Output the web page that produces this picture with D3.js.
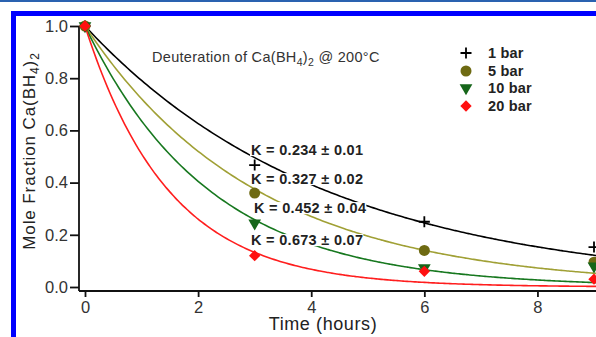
<!DOCTYPE html>
<html><head><meta charset="utf-8">
<script src="https://cdn.jsdelivr.net/npm/d3@7"></script>
<style>body{margin:0;background:#fff}svg{display:block}</style>
</head><body>
<script>
const times = [0, 3, 6, 9];
const series = ["1 bar", "5 bar", "10 bar", "20 bar"];
const vals1 = [1.0, 0.467, 0.25, 0.153];
const vals5 = [1.0, 0.36, 0.14, 0.095];
const vals10 = [1.0, 0.245, 0.073, 0.08];
const vals20 = [1.0, 0.12, 0.06, 0.03];
const kValues = [0.234, 0.327, 0.452, 0.673];
const kErrors = ["0.01", "0.02", "0.04", "0.07"];
const xTicks = [0, 2, 4, 6, 8];
const yTicks = [0.0, 0.2, 0.4, 0.6, 0.8, 1.0];

const W = 596, H = 337;
const FONT = "Liberation Sans, Arial, sans-serif";
const svg = d3.select("body").append("svg").attr("width", W).attr("height", H);
// page frame
svg.append("rect").attr("x",0).attr("y",0).attr("width",W).attr("height",2).attr("fill","#2a62b0");
svg.append("rect").attr("x",11).attr("y",11).attr("width",W-11).attr("height",5).attr("fill","#0000ff");
svg.append("rect").attr("x",11).attr("y",11).attr("width",5).attr("height",H-11).attr("fill","#0000ff");

const x = d3.scaleLinear().domain([0, 9]).range([85, 594]);
const y = d3.scaleLinear().domain([0, 1]).range([287, 26]);

const colors = ["#000000", "#a0a035", "#17781f", "#ff1e1e"];
const markerColors = ["#000000", "#6e6a12", "#16661a", "#ff1010"];
const allVals = [vals1, vals5, vals10, vals20];

const g = svg.append("g");
// fitted curves y = exp(-K t)
const line = d3.line().x(d => x(d[0])).y(d => y(d[1])).curve(d3.curveMonotoneX);
kValues.forEach((k, i) => {
  const pts = d3.range(0, 9.6, 0.05).map(t => [t, Math.exp(-k * t)]);
  g.append("path").attr("d", line(pts)).attr("fill","none")
   .attr("stroke", colors[i]).attr("stroke-width", 1.6);
});

// axes
const yAxis = d3.axisLeft(y).tickValues(yTicks).tickFormat(d3.format(".1f")).tickSize(9).tickPadding(2);
const ya = svg.append("g").attr("transform","translate(79,0)").call(yAxis);
ya.select(".domain").attr("d", `M0,${y(1)}V291`).attr("stroke","#111").attr("stroke-width",1.8);
const xAxis = d3.axisBottom(x).tickValues(xTicks).tickSize(6).tickPadding(4);
const xa = svg.append("g").attr("transform","translate(0,291)").call(xAxis);
xa.select(".domain").attr("d", `M79,0H${W}`).attr("stroke","#111").attr("stroke-width",1.8);
[ya, xa].forEach(a => {
  a.selectAll(".tick line").attr("stroke","#111").attr("stroke-width",1.8);
  a.selectAll(".tick text").attr("fill","#333").style("font-family",FONT).style("font-size","16.5px");
});

// K labels with white background
const labelPos = [[251,150],[251,179],[254,208],[251,240]];
kValues.forEach((k, i) => {
  const t = svg.append("text").attr("x", labelPos[i][0]).attr("y", labelPos[i][1])
    .attr("dy","0.35em").attr("font-family",FONT)
    .attr("font-weight","bold").attr("font-size","14.5px").attr("letter-spacing","0.3px").attr("fill","#222")
    .text(`K = ${k.toFixed(3)} ± ${kErrors[i]}`);
  const bb = t.node().getBBox();
  svg.insert("rect", function(){ return t.node(); })
    .attr("x", bb.x - 1).attr("y", bb.y + 2).attr("width", bb.width + 1).attr("height", bb.height - 4)
    .attr("fill","#fff");
});

// markers
function drawMarker(sel, i, cx, cy) {
  if (i === 0) {
    sel.append("path").attr("d", `M${cx-5.5},${cy}H${cx+5.5}M${cx},${cy-5.5}V${cy+5.5}`)
      .attr("stroke","#000").attr("stroke-width",1.8);
  } else if (i === 1) {
    sel.append("circle").attr("cx",cx).attr("cy",cy).attr("r",5.5).attr("fill",markerColors[1]);
  } else if (i === 2) {
    sel.append("path").attr("d", d3.symbol(d3.symbolTriangle, 70)())
      .attr("transform",`translate(${cx},${cy}) rotate(180)`).attr("fill",markerColors[2]);
  } else {
    sel.append("path").attr("d", d3.symbol(d3.symbolSquare, 64)())
      .attr("transform",`translate(${cx},${cy}) rotate(45)`).attr("fill",markerColors[3]);
  }
}
const mk = svg.append("g");
allVals.forEach((vals, i) => {
  vals.forEach((v, j) => drawMarker(mk, i, x(times[j]), y(v)));
});

// title
const title = svg.append("text").attr("x",152).attr("y",62)
  .attr("font-family",FONT).attr("font-size","14.5px").attr("letter-spacing","0.3px").attr("fill","#333");
title.append("tspan").text("Deuteration of Ca(BH");
title.append("tspan").attr("font-size","10.5px").attr("dy",4).text("4");
title.append("tspan").attr("dy",-4).text(")");
title.append("tspan").attr("font-size","10.5px").attr("dy",4).text("2");
title.append("tspan").attr("dy",-4).text(" @ 200°C");

// legend
const legY = [53, 71, 88, 106];
series.forEach((s, i) => {
  drawMarker(svg, i, 466, legY[i]);
  svg.append("text").attr("x",488).attr("y",legY[i]).attr("dy","0.35em")
    .attr("font-family",FONT).attr("font-weight","bold").attr("letter-spacing","0.2px")
    .attr("font-size","14.5px").attr("fill","#222").text(s);
});

// axis titles
const yl = svg.append("text").attr("transform","translate(35,151) rotate(-90)").attr("text-anchor","middle")
  .attr("font-family",FONT).attr("font-size","17px").attr("letter-spacing","0.9px").attr("fill","#222");
yl.append("tspan").text("Mole Fraction Ca(BH");
yl.append("tspan").attr("font-size","12px").attr("dy",4).text("4");
yl.append("tspan").attr("dy",-4).text(")");
yl.append("tspan").attr("font-size","12px").attr("dy",4).text("2");
svg.append("text").attr("x",323).attr("y",330).attr("text-anchor","middle")
  .attr("font-family",FONT).attr("font-size","18px").attr("letter-spacing","0.6px").attr("fill","#222")
  .text("Time (hours)");
</script>
</body></html>
